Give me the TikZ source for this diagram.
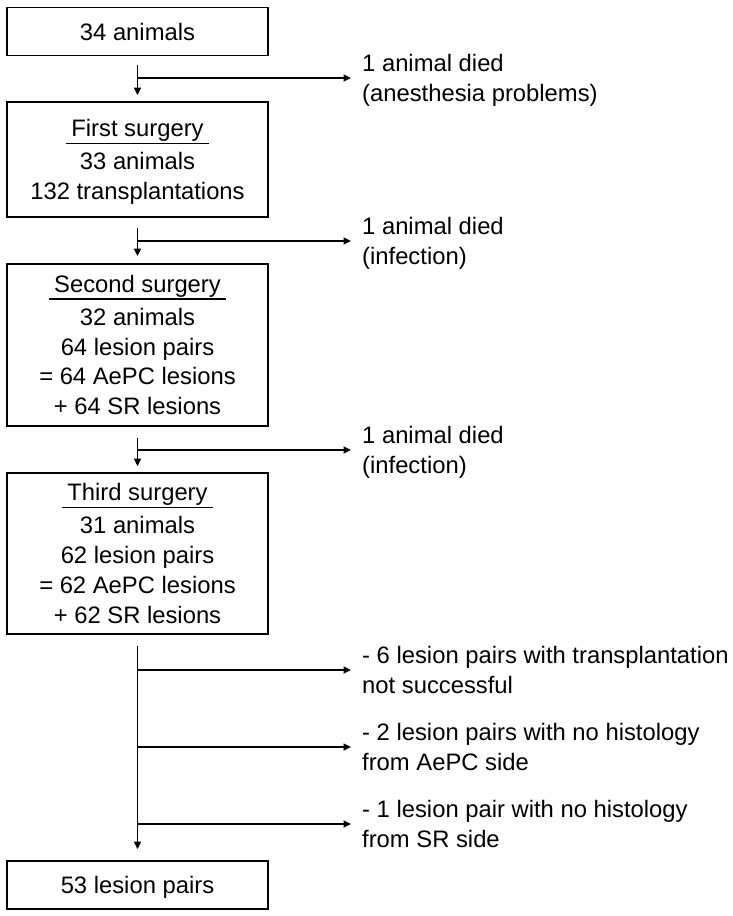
\documentclass[tikz,border=0pt]{standalone}
\usepackage{fontspec}
\setmainfont{Liberation Sans}
\usetikzlibrary{arrows.meta}
\newcommand\fs{\fontsize{23.8pt}{29.7pt}\selectfont}
\newcommand\ttl[1]{\setbox0\hbox{#1}\rlap{\kern-5pt\rule[-7.4pt]{\dimexpr\wd0+10pt\relax}{1.5pt}}\box0}
\newcommand\tsx{\rule{0pt}{23pt}}
\newcommand\bsx{\rule[-6pt]{0pt}{6pt}}
\begin{document}
\begin{tikzpicture}[x=1pt,y=-1pt,
  box/.style={draw,line width=1.8pt,minimum width=261pt,inner sep=0pt,align=center,font=\fs},
  lab/.style={anchor=west,inner sep=0pt,align=left,font=\fs},
  arr/.style={line width=1.6pt,-{Triangle[length=7.5pt,width=7pt]}}]
\useasboundingbox[fill=white] (0,0) rectangle (732,916);

% boxes
\node[box,minimum height=48pt] (b1) at (137.5,31.5) {\tsx 34 animals\bsx};
\node[box,minimum height=115pt] (b2) at (137.5,159.5)
  {\tsx\ttl{First surgery}\\[3.3pt]33 animals\\132 transplantations\bsx};
\node[box,minimum height=162pt] (b3) at (137.5,345)
  {\tsx\ttl{Second surgery}\\[3.3pt]32 animals\\64 lesion pairs\\= 64 AePC lesions\\+ 64 SR lesions\bsx};
\node[box,minimum height=161pt] (b4) at (137.5,553.5)
  {\tsx\ttl{Third surgery}\\[3.3pt]31 animals\\62 lesion pairs\\= 62 AePC lesions\\+ 62 SR lesions\bsx};
\node[box,minimum height=48pt] (b5) at (137.5,885) {\tsx 53 lesion pairs\bsx};

% side labels
\node[lab] (l1) at (362,78) {\tsx 1 animal died\\(anesthesia problems)\bsx};
\node[lab] (l2) at (362,241) {\tsx 1 animal died\\(infection)\bsx};
\node[lab] (l3) at (362,450) {\tsx 1 animal died\\(infection)\bsx};
\node[lab] (l4) at (362,670) {\tsx - 6 lesion pairs with transplantation\\not successful\bsx};
\node[lab] (l5) at (362,747) {\tsx - 2 lesion pairs with no histology\\from AePC side\bsx};
\node[lab] (l6) at (362,824) {\tsx - 1 lesion pair with no histology\\from SR side\bsx};

% main flow
\draw[arr] ([yshift=-8.5pt]b1.south) -- ([yshift=6pt]b2.north);
\draw[arr] ([yshift=-10pt]b2.south) -- ([yshift=7pt]b3.north);
\draw[arr] ([yshift=-11pt]b3.south) -- ([yshift=6pt]b4.north);
\draw[arr] ([yshift=-11pt]b4.south) -- ([yshift=11pt]b5.north);

% branches
\draw[arr] (b1.south |- l1.west) -- ([xshift=-11pt]l1.west);
\draw[arr] (b2.south |- l2.west) -- ([xshift=-11pt]l2.west);
\draw[arr] (b3.south |- l3.west) -- ([xshift=-11pt]l3.west);
\draw[arr] (b4.south |- l4.west) -- ([xshift=-11pt]l4.west);
\draw[arr] (b4.south |- l5.west) -- ([xshift=-11pt]l5.west);
\draw[arr] (b4.south |- l6.west) -- ([xshift=-11pt]l6.west);
\end{tikzpicture}
\end{document}
